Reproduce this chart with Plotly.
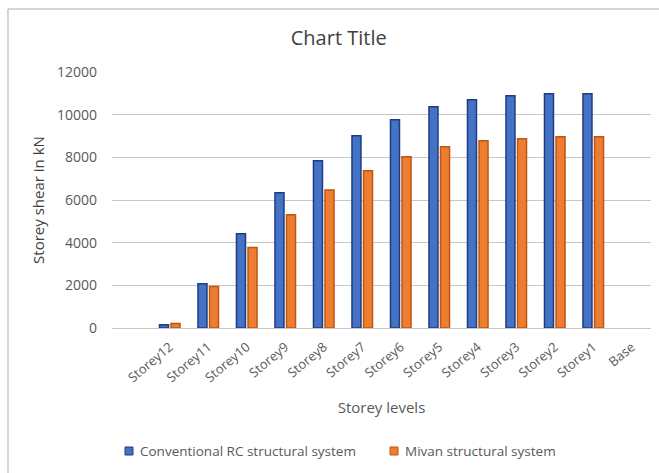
import plotly.graph_objects as go

# Storey levels from the top of the building down to the base
storeys = ["Storey12", "Storey11", "Storey10", "Storey9", "Storey8", "Storey7",
           "Storey6", "Storey5", "Storey4", "Storey3", "Storey2", "Storey1", "Base"]

# Storey shear (kN) for each structural system
conventional_rc = [150, 2080, 4420, 6340, 7840, 9010, 9760, 10370, 10700, 10890, 10980, 10980, 0]
mivan = [210, 1950, 3770, 5310, 6470, 7370, 8030, 8500, 8780, 8870, 8960, 8960, 0]

series_names = ["Conventional RC structural system", "Mivan structural system"]
series_fill = ["#4472C4", "#ED7D31"]
series_edge = ["#1F3C82", "#C0560F"]

FONT = "Open Sans"
GREY = "#595959"

# plot area in pixels
L, R, T, B = 112, 651, 72, 328


def px(x):
    return (x - L) / (R - L)


def py(y):
    return (B - y) / (B - T)


def edge_widths(values):
    # no outline on zero-height bars
    return [1.5 if v else 0 for v in values]


fig = go.Figure()
for name, vals, fill, edge in zip(series_names, [conventional_rc, mivan], series_fill, series_edge):
    fig.add_trace(go.Bar(
        x=storeys, y=vals, name=name, showlegend=False,
        marker=dict(color=fill, line=dict(color=edge, width=edge_widths(vals))),
    ))

fig.update_layout(
    width=659, height=473,
    margin=dict(l=L, r=659 - R, t=T, b=473 - B),
    paper_bgcolor="white", plot_bgcolor="white",
    font=dict(family=FONT, color=GREY, size=12),
    barmode="group", bargap=0.40, bargroupgap=0.22,
    title=dict(text="Chart Title", x=0.514, xanchor="center",
               y=1 - 37.5 / 473, yanchor="middle", yref="container",
               font=dict(family=FONT, size=20, color="#404040")),
    showlegend=False,
)

fig.update_xaxes(
    type="category", categoryorder="array", categoryarray=storeys,
    range=[-1.5, 12.5], tickangle=-40, showgrid=False,
    showline=False, ticks="", ticklabelstandoff=8,
    tickfont=dict(size=13, color=GREY),
    title=dict(text="Storey levels", standoff=17, font=dict(size=15, color=GREY)),
    fixedrange=True,
)
fig.update_yaxes(
    range=[0, 12000], dtick=2000, tickformat="d",
    showgrid=True, gridcolor="#C8C8C8", gridwidth=1,
    zeroline=True, zerolinecolor="#C8C8C8", zerolinewidth=1,
    showline=False, ticks="", ticklabelstandoff=14,
    tickfont=dict(size=14, color=GREY),
    title=dict(text="Storey shear in kN", standoff=8, font=dict(size=15, color="#404040")),
    fixedrange=True,
)

# Chart frame (left and top edges)
fig.add_shape(type="line", xref="paper", yref="paper",
              x0=px(8), x1=px(8), y0=py(9), y1=py(600),
              line=dict(color="#C8C8C8", width=1.5), layer="below")
fig.add_shape(type="line", xref="paper", yref="paper",
              x0=px(8), x1=px(700), y0=py(9), y1=py(9),
              line=dict(color="#C8C8C8", width=1.5), layer="below")

# Legend: small square swatch followed by the series name
legend_swatch_x = [125, 390]
legend_y = 451
for name, fill, edge, sx in zip(series_names, series_fill, series_edge, legend_swatch_x):
    fig.add_shape(type="rect", xref="paper", yref="paper",
                  x0=px(sx), x1=px(sx + 8), y0=py(legend_y + 4), y1=py(legend_y - 4),
                  fillcolor=fill, line=dict(color=edge, width=1))
    fig.add_annotation(text=name, xref="paper", yref="paper",
                       x=px(sx + 13), y=py(legend_y), xanchor="left", yanchor="middle",
                       showarrow=False, font=dict(family=FONT, size=13.5, color=GREY))

fig.write_html("out.html")
